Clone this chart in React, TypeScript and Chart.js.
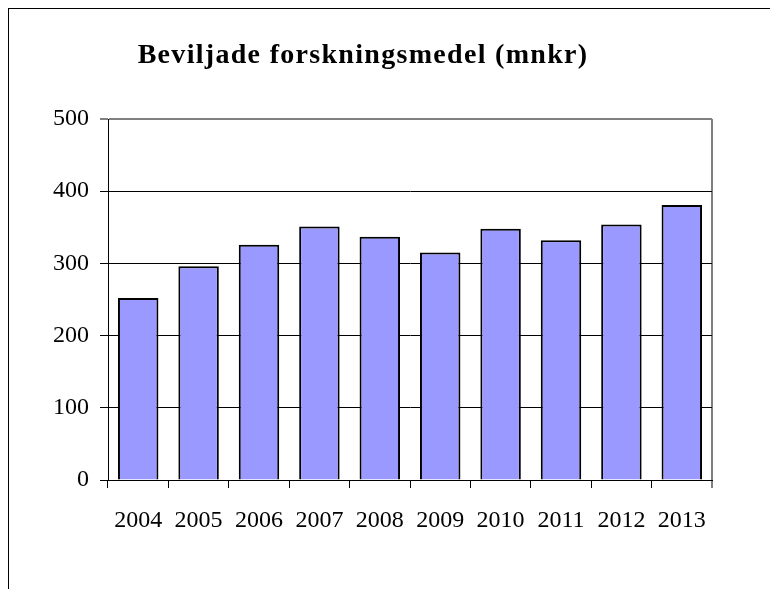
import React, { useEffect, useRef } from "react";
import { Chart, registerables } from "chart.js";

Chart.register(...registerables);

const titleText = "Beviljade forskningsmedel (mnkr)";
const categories = ["2004", "2005", "2006", "2007", "2008", "2009", "2010", "2011", "2012", "2013"];
const values = [252, 296, 326, 351, 337, 315, 348, 332, 354, 381];
const yMin = 0;
const yMax = 500;
const yStep = 100;

const FONT = '"Liberation Serif", "Times New Roman", serif';

const titlePlugin = {
  id: "serifTitle",
  afterDraw(chart: any) {
    const ctx = chart.ctx;
    ctx.save();
    ctx.font = `bold 28px ${FONT}`;
    (ctx as any).letterSpacing = "1.3px";
    ctx.fillStyle = "#000";
    ctx.textAlign = "center";
    ctx.textBaseline = "alphabetic";
    ctx.fillText(titleText, 354, 54);
    ctx.restore();
  },
};

export default function App() {
  const ref = useRef<HTMLCanvasElement | null>(null);

  useEffect(() => {
    if (!ref.current) return;
    const chart = new Chart(ref.current, {
      type: "bar",
      data: {
        labels: categories,
        datasets: [
          {
            data: values,
            backgroundColor: "#9999FF",
            borderColor: "#000000",
            borderWidth: 2,
            barPercentage: 0.67,
            categoryPercentage: 1,
          },
        ],
      },
      options: {
        responsive: false,
        animation: false,
        layout: { padding: { top: 110, right: 66, left: 0, bottom: 0 } },
        plugins: {
          legend: { display: false },
          tooltip: { enabled: false },
          title: { display: false },
        },
        scales: {
          x: {
            offset: true,
            grid: {
              offset: true,
              drawOnChartArea: true,
              color: (c: any) => (c.type === "tick" ? "rgba(0,0,0,0)" : "#808080"),
              lineWidth: (c: any) => (c.type === "tick" ? 1 : 2),
              tickColor: "#000000",
              tickLength: 8,
              tickWidth: 1,
            },
            border: { display: true, color: "#000000", width: 1 },
            ticks: {
              color: "#000000",
              font: { family: FONT, size: 24 },
              padding: 18,
              maxRotation: 0,
              autoSkip: false,
            },
            afterFit: (s: any) => {
              s.height = 109;
            },
          },
          y: {
            min: yMin,
            max: yMax,
            grid: {
              color: (c: any) => (c.tick && c.tick.value === yMax ? "#808080" : "#000000"),
              lineWidth: (c: any) => (c.tick && c.tick.value === yMax ? 2 : 1),
              tickColor: "#000000",
              tickLength: 8,
              tickWidth: 1,
            },
            border: { display: true, color: "#000000", width: 1 },
            ticks: {
              stepSize: yStep,
              color: "#000000",
              font: { family: FONT, size: 24 },
              padding: 11,
            },
            afterFit: (s: any) => {
              s.width = 99;
            },
          },
        },
      },
      plugins: [titlePlugin],
    });
    return () => chart.destroy();
  }, []);

  return (
    <div
      style={{
        borderLeft: "1px solid #000",
        borderTop: "1px solid #000",
        width: 769,
        height: 580,
        background: "#fff",
      }}
    >
      <canvas ref={ref} width={769} height={580} style={{ display: "block" }} />
    </div>
  );
}
